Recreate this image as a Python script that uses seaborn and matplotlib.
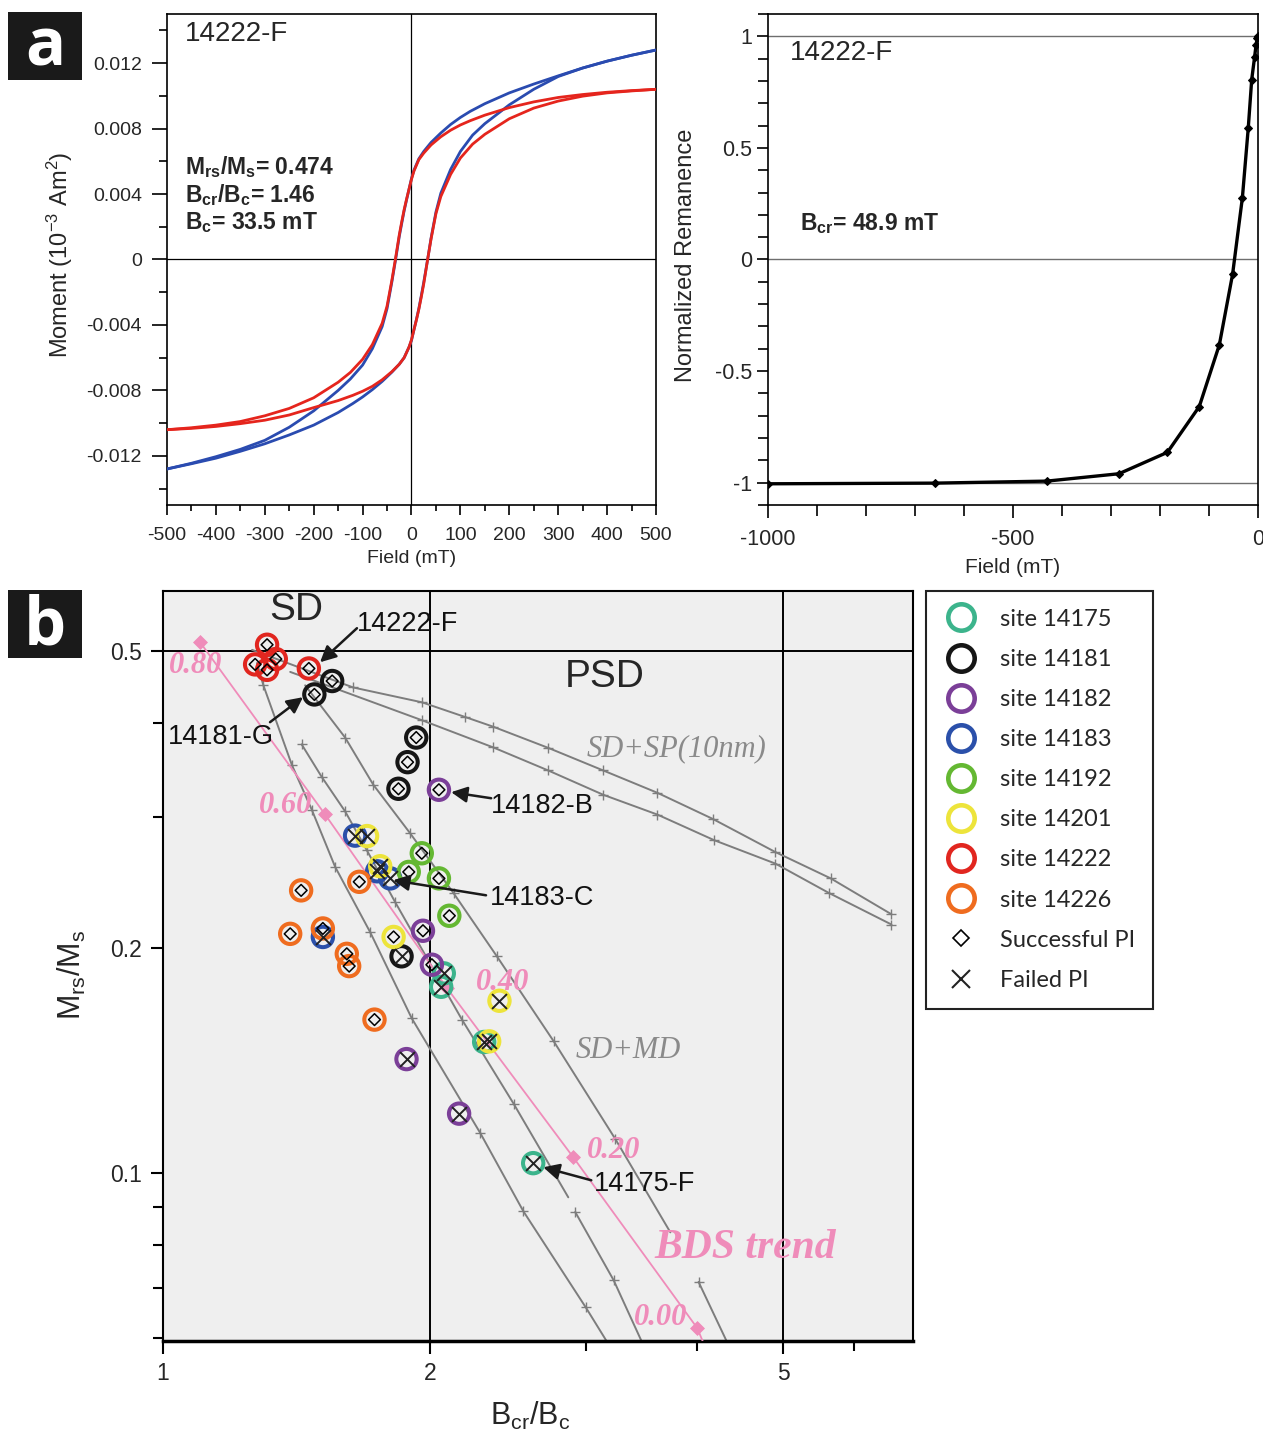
import numpy as np
import pandas as pd
import matplotlib
matplotlib.use("Agg")
import matplotlib.pyplot as plt
from matplotlib.lines import Line2D
from matplotlib.patches import Rectangle
from matplotlib.ticker import FixedLocator, FixedFormatter, NullFormatter, MultipleLocator
import seaborn as sns

sns.set_style("ticks")
plt.rcParams['font.family'] = ['Liberation Sans', 'DejaVu Sans']
plt.rcParams['mathtext.fontset'] = 'custom'
plt.rcParams['mathtext.rm'] = 'Liberation Sans'
plt.rcParams['mathtext.it'] = 'Liberation Sans:italic'
plt.rcParams['mathtext.bf'] = 'Liberation Sans:bold'
plt.rcParams['axes.linewidth'] = 1.2

# ---------------- hysteresis loops (field in mT, moment in 10^-3 Am^2) -------------
field_desc = [500, 450, 400, 350, 300, 250, 200, 150, 120, 100, 80, 60, 40, 25, 15, 5, 0,
              -5, -10, -15, -20, -25, -33, -40, -50, -60, -80, -100, -125, -150, -200,
              -250, -300, -350, -400, -450, -500]
field_asc = [-500, -450, -400, -350, -300, -250, -200, -150, -120, -100, -80, -60, -40, -25,
             -15, -5, 0, 5, 10, 15, 20, 25, 33, 40, 50, 60, 80, 100, 125, 150, 200, 250,
             300, 350, 400, 450, 500]
red_desc = [0.01040, 0.01032, 0.01022, 0.01008, 0.00990, 0.00963, 0.00928, 0.00882, 0.00848,
            0.00822, 0.00790, 0.00750, 0.00700, 0.00650, 0.00610, 0.00540, 0.00490, 0.00430,
            0.00370, 0.00305, 0.00230, 0.00150, 0.00000, -0.00125, -0.00285, -0.00390,
            -0.00520, -0.00610, -0.00690, -0.00750, -0.00845, -0.00910, -0.00955, -0.00990,
            -0.01012, -0.01028, -0.01040]
red_asc = [-0.01040, -0.01032, -0.01020, -0.01003, -0.00982, -0.00950, -0.00905, -0.00862,
           -0.00830, -0.00805, -0.00775, -0.00735, -0.00685, -0.00640, -0.00600, -0.00535,
           -0.00490, -0.00430, -0.00370, -0.00305, -0.00230, -0.00150, 0.00000, 0.00125,
           0.00280, 0.00385, 0.00520, 0.00620, 0.00705, 0.00765, 0.00860, 0.00925, 0.00968,
           0.00998, 0.01018, 0.01030, 0.01040]
blue_desc = [0.01280, 0.01248, 0.01212, 0.01170, 0.01122, 0.01072, 0.01018, 0.00952, 0.00905,
             0.00868, 0.00825, 0.00773, 0.00715, 0.00660, 0.00615, 0.00545, 0.00495, 0.00430,
             0.00365, 0.00298, 0.00220, 0.00140, -0.00010, -0.00135, -0.00300, -0.00410,
             -0.00545, -0.00645, -0.00730, -0.00800, -0.00925, -0.01025, -0.01105, -0.01160,
             -0.01205, -0.01245, -0.01280]
blue_asc = [-0.01280, -0.01248, -0.01214, -0.01172, -0.01126, -0.01072, -0.01012, -0.00935,
            -0.00880, -0.00840, -0.00795, -0.00745, -0.00688, -0.00640, -0.00600, -0.00535,
            -0.00495, -0.00430, -0.00368, -0.00300, -0.00222, -0.00140, 0.00000, 0.00130,
            0.00290, 0.00405, 0.00550, 0.00660, 0.00760, 0.00830, 0.00945, 0.01040, 0.01118,
            0.01170, 0.01212, 0.01248, 0.01280]

# ---------------- back-field remanence curve ----------------
bf_field = [-1000, -659, -431, -284, -185, -120, -79, -52, -32, -20, -13, -7, -4, -1.6, 0]
bf_rem = [-1.005, -1.002, -0.993, -0.960, -0.864, -0.659, -0.382, -0.066, 0.277, 0.590,
          0.806, 0.909, 0.963, 0.992, 1.000]

# ---------------- Day plot samples ----------------
site_names = ['14175', '14181', '14182', '14183', '14192', '14201', '14222', '14226']
site_colors = ['#3cb48c', '#161616', '#7b3f98', '#2b50aa', '#64b832', '#ede43b',
               '#e1261f', '#ef6c1f']
bcr_14175 = [2.072, 2.058, 2.301, 2.613]
mrs_14175 = [0.185, 0.1775, 0.1497, 0.103]
pi_14175 = ['F', 'F', 'F', 'F']
bcr_14181 = [1.551, 1.481, 1.929, 1.886, 1.842, 1.857]
mrs_14181 = [0.456, 0.4375, 0.383, 0.355, 0.327, 0.195]
pi_14181 = ['S', 'S', 'S', 'S', 'S', 'F']
bcr_14182 = [2.046, 1.963, 2.009, 1.881, 2.156]
mrs_14182 = [0.326, 0.211, 0.190, 0.142, 0.120]
pi_14182 = ['S', 'S', 'S', 'F', 'F']
bcr_14183 = [1.646, 1.743, 1.803, 1.514]
mrs_14183 = [0.283, 0.2535, 0.248, 0.207]
pi_14183 = ['F', 'F', 'F', 'F']
bcr_14192 = [1.957, 1.892, 2.046, 2.102]
mrs_14192 = [0.268, 0.253, 0.248, 0.221]
pi_14192 = ['S', 'S', 'S', 'S']
bcr_14201 = [1.698, 1.757, 1.819, 2.394, 2.331]
mrs_14201 = [0.2826, 0.2575, 0.207, 0.170, 0.150]
pi_14201 = ['F', 'F', 'S', 'F', 'F']
bcr_14222 = [1.31, 1.27, 1.34, 1.31, 1.46]
mrs_14222 = [0.51, 0.48, 0.488, 0.472, 0.474]
pi_14222 = ['S', 'S', 'S', 'S', 'S']
bcr_14226 = [1.431, 1.664, 1.391, 1.514, 1.611, 1.621, 1.731]
mrs_14226 = [0.239, 0.2454, 0.209, 0.2125, 0.1965, 0.1892, 0.1604]
pi_14226 = ['S', 'S', 'S', 'S', 'S', 'S', 'S']

# theoretical mixing curves (Bcr/Bc, Mrs/Ms)
sp_upper_bc = [1.260, 1.638, 1.958, 2.191, 2.356, 2.717, 3.134, 3.606, 4.163, 4.898, 5.655, 6.620]
sp_upper_m = [0.502, 0.447, 0.427, 0.408, 0.396, 0.371, 0.346, 0.323, 0.298, 0.269, 0.248, 0.222]
sp_lower_bc = [1.391, 1.958, 2.356, 2.717, 3.134, 3.606, 4.180, 4.898, 5.628, 6.620]
sp_lower_m = [0.469, 0.404, 0.3715, 0.346, 0.321, 0.302, 0.279, 0.2596, 0.2371, 0.2151]
md_a_bc = [1.276, 1.2975, 1.397, 1.472, 1.563, 1.712, 1.907, 2.278, 2.547, 2.995, 3.166]
md_a_m = [0.482, 0.450, 0.352, 0.306, 0.257, 0.210, 0.161, 0.113, 0.0888, 0.066, 0.0593]
md_b1_bc = [1.433, 1.510, 1.604, 1.697, 1.826, 2.172, 2.483, 2.862]
md_b1_m = [0.375, 0.339, 0.305, 0.2705, 0.2306, 0.1604, 0.1238, 0.0927]
md_b2_bc = [2.914, 3.219, 3.465]
md_b2_m = [0.0886, 0.0718, 0.0593]
md_c1_bc = [1.446, 1.604, 1.726, 1.899, 2.125, 2.378, 2.756, 3.233, 3.730]
md_c1_m = [0.450, 0.383, 0.331, 0.285, 0.237, 0.195, 0.150, 0.111, 0.0832]
md_c2_bc = [4.013, 4.321]
md_c2_m = [0.0714, 0.0593]

# BDS trend with SP fraction marks
bds_bc = [1.101, 1.522, 2.090, 2.899, 4.000]
bds_m = [0.514, 0.3023, 0.1767, 0.1049, 0.0619]
bds_labels = ['0.80', '0.60', '0.40', '0.20', '0.00']
bds_label_bc = [1.087, 1.373, 2.411, 3.216, 3.634]
bds_label_m = [0.4788, 0.3108, 0.180, 0.1072, 0.0640]
bds_end = (4.06, 0.0593)

# labelled specimens: name, text position, arrow tail, arrow head
callout_names = ['14222-F', '14181-G', '14182-B', '14183-C', '14175-F']
callout_text = [(1.654, 0.5434), (1.013, 0.3835), (2.343, 0.3098), (2.337, 0.2333), (3.062, 0.0965)]
callout_tail = [(1.654, 0.5367), (1.320, 0.4016), (2.343, 0.3176), (2.312, 0.2354), (3.038, 0.0977)]
callout_head = [(1.503, 0.4832), (1.438, 0.4338), (2.112, 0.3236), (1.817, 0.2466), (2.682, 0.1017)]

# ---------------- figure ----------------
fig = plt.figure(figsize=(12.63, 14.32), dpi=100)
ax_h = fig.add_axes([0.1322, 0.64735, 0.3872, 0.34287])
ax_r = fig.add_axes([0.6081, 0.64735, 0.3880, 0.34287])
ax_d = fig.add_axes([0.12906, 0.06355, 0.59382, 0.52374])

BLUE = '#2a4bb0'
RED = '#e5251d'

# --- hysteresis loops
ax_h.axhline(0, color='black', lw=0.9, zorder=1)
ax_h.axvline(0, color='black', lw=0.9, zorder=1)
for desc, asc, col in [(blue_desc, blue_asc, BLUE), (red_desc, red_asc, RED)]:
    sns.lineplot(x=field_desc, y=desc, sort=False, estimator=None, color=col, lw=2.0,
                 ax=ax_h, zorder=3)
    sns.lineplot(x=field_asc, y=asc, sort=False, estimator=None, color=col, lw=2.0,
                 ax=ax_h, zorder=3)
ax_h.set_xlim(-500, 500)
ax_h.set_ylim(-0.015, 0.015)
h_xt = list(range(-500, 501, 100))
ax_h.xaxis.set_major_locator(FixedLocator(h_xt))
ax_h.xaxis.set_major_formatter(FixedFormatter([str(v) for v in h_xt]))
ax_h.xaxis.set_minor_locator(MultipleLocator(50))
h_yt = [-0.012, -0.008, -0.004, 0, 0.004, 0.008, 0.012]
ax_h.yaxis.set_major_locator(FixedLocator(h_yt))
ax_h.yaxis.set_major_formatter(FixedFormatter(['-0.012', '-0.008', '-0.004', '0',
                                               '0.004', '0.008', '0.012']))
ax_h.yaxis.set_minor_locator(MultipleLocator(0.002))
ax_h.tick_params(axis='both', which='both', direction='out', color='black', width=1.2)
ax_h.tick_params(axis='y', which='major', length=11, labelsize=14, pad=7)
ax_h.tick_params(axis='y', which='minor', length=6)
ax_h.tick_params(axis='x', which='major', length=7, labelsize=14, pad=9)
ax_h.tick_params(axis='x', which='minor', length=4)
for sp in ax_h.spines.values():
    sp.set_color('black')
ax_h.set_xlabel('Field (mT)', fontsize=14)
ax_h.set_ylabel('Moment (10$^{-3}$ Am$^2$)', fontsize=17)
ax_h.xaxis.set_label_coords(0.5, -0.092)
ax_h.yaxis.set_label_coords(-0.188, 0.509)
ax_h.text(-463, 0.01378, '14222-F', fontsize=20, va='center', ha='left')
stats = [r'M$_{\mathbf{rs}}$/M$_{\mathbf{s}}$= 0.474',
         r'B$_{\mathbf{cr}}$/B$_{\mathbf{c}}$= 1.46',
         r'B$_{\mathbf{c}}$= 33.5 mT']
for txt, yv in zip(stats, [0.00564, 0.00392, 0.00227]):
    ax_h.text(-463, yv, txt, fontsize=16.5, fontweight='bold', va='center', ha='left')

# --- back-field curve
for yv in (1, 0, -1):
    ax_r.axhline(yv, color='#6e6e6e', lw=1.0, zorder=1)
sns.lineplot(x=bf_field, y=bf_rem, sort=False, estimator=None, color='black', lw=2.4,
             marker='D', markersize=4.5, markeredgecolor='black', ax=ax_r, zorder=3)
ax_r.set_xlim(-1000, 0)
ax_r.set_ylim(-1.1, 1.1)
ax_r.xaxis.set_major_locator(FixedLocator([-1000, -500, 0]))
ax_r.xaxis.set_major_formatter(FixedFormatter(['-1000', '-500', '0']))
ax_r.xaxis.set_minor_locator(MultipleLocator(100))
ax_r.yaxis.set_major_locator(FixedLocator([-1, -0.5, 0, 0.5, 1]))
ax_r.yaxis.set_major_formatter(FixedFormatter(['-1', '-0.5', '0', '0.5', '1']))
ax_r.yaxis.set_minor_locator(MultipleLocator(0.1))
ax_r.tick_params(axis='both', which='both', direction='out', color='black', width=1.2)
ax_r.tick_params(axis='both', which='major', length=8, labelsize=15.5)
ax_r.tick_params(axis='y', which='minor', length=7)
ax_r.tick_params(axis='x', which='minor', length=8)
ax_r.tick_params(axis='x', which='major', length=9, pad=8)
for sp in ax_r.spines.values():
    sp.set_color('black')
ax_r.set_xlabel('Field (mT)', fontsize=15)
ax_r.set_ylabel('Normalized Remanence', fontsize=17)
ax_r.xaxis.set_label_coords(0.5, -0.107)
ax_r.yaxis.set_label_coords(-0.145, 0.509)
ax_r.text(-955, 0.924, '14222-F', fontsize=20, va='center', ha='left')
ax_r.text(-935, 0.162, r'B$_{\mathbf{cr}}$= 48.9 mT', fontsize=16.5, fontweight='bold',
          va='center', ha='left')

# --- Day plot
ax_d.set_xscale('log')
ax_d.set_yscale('log')
ax_d.set_facecolor('#efefef')
ax_d.axvline(2, color='black', lw=1.4, zorder=1)
ax_d.axvline(5, color='black', lw=1.4, zorder=1)
ax_d.axhline(0.5, color='black', lw=1.4, zorder=1)

GRAY = '#7d7d7d'
curves = [(sp_upper_bc, sp_upper_m, 1, None), (sp_lower_bc, sp_lower_m, 1, None),
          (md_a_bc, md_a_m, 1, -1), (md_b1_bc, md_b1_m, 0, -1), (md_b2_bc, md_b2_m, 0, -1),
          (md_c1_bc, md_c1_m, 1, -1), (md_c2_bc, md_c2_m, 0, -1)]
for bc, m, i0, i1 in curves:
    sns.lineplot(x=bc, y=m, sort=False, estimator=None, color=GRAY, lw=1.4, ax=ax_d, zorder=2)
    sns.scatterplot(x=bc[i0:i1], y=m[i0:i1], marker='+', s=60, color=GRAY, linewidth=1.0,
                    ax=ax_d, zorder=2, legend=False)

PINK = '#ef8cba'
sns.lineplot(x=bds_bc + [bds_end[0]], y=bds_m + [bds_end[1]], sort=False, estimator=None,
             color=PINK, lw=1.3, ax=ax_d, zorder=3)
sns.scatterplot(x=bds_bc, y=bds_m, marker='D', s=50, color=PINK, edgecolor=PINK,
                ax=ax_d, zorder=3, legend=False)
for lab, xb, yb in zip(bds_labels, bds_label_bc, bds_label_m):
    ax_d.text(xb, yb, lab, fontsize=22, color=PINK, family='Liberation Serif',
              style='italic', fontweight='bold', ha='center', va='center', zorder=6)

rows = []
for s, b, m, p in [('14175', bcr_14175, mrs_14175, pi_14175), ('14181', bcr_14181, mrs_14181, pi_14181),
                   ('14182', bcr_14182, mrs_14182, pi_14182), ('14183', bcr_14183, mrs_14183, pi_14183),
                   ('14192', bcr_14192, mrs_14192, pi_14192), ('14201', bcr_14201, mrs_14201, pi_14201),
                   ('14222', bcr_14222, mrs_14222, pi_14222), ('14226', bcr_14226, mrs_14226, pi_14226)]:
    for bi, mi, pi in zip(b, m, p):
        rows.append({'site': s, 'bcr_bc': bi, 'mrs_ms': mi, 'pi': pi})
df = pd.DataFrame(rows)
color_of = dict(zip(site_names, site_colors))

draw_order = ['14175', '14183', '14181', '14182', '14192', '14201', '14222', '14226']
for s in draw_order:
    sub = df[df['site'] == s]
    sns.scatterplot(data=sub, x='bcr_bc', y='mrs_ms', marker='o', s=215, facecolor='none',
                    edgecolor=color_of[s], linewidth=2.9, ax=ax_d, zorder=4, legend=False)
sns.scatterplot(data=df[df['pi'] == 'S'], x='bcr_bc', y='mrs_ms', marker='D', s=36,
                facecolor='none', edgecolor='black', linewidth=1.1, ax=ax_d, zorder=5,
                legend=False)
sns.scatterplot(data=df[df['pi'] == 'F'], x='bcr_bc', y='mrs_ms', marker='x', s=115,
                color='#222222', linewidth=1.4, ax=ax_d, zorder=5, legend=False)

for name, tp, tail, head in zip(callout_names, callout_text, callout_tail, callout_head):
    ax_d.annotate('', xy=head, xytext=tail,
                  arrowprops=dict(arrowstyle='-|>', color='#1a1a1a', lw=1.8,
                                  mutation_scale=24, shrinkA=0, shrinkB=0), zorder=6)
    ax_d.text(tp[0], tp[1], name, fontsize=19.5, ha='left', va='center', color='#111111',
              zorder=6)

ax_d.text(1.413, 0.5674, 'SD', fontsize=28, ha='center', va='center', zorder=6)
ax_d.text(3.142, 0.4613, 'PSD', fontsize=28, ha='center', va='center', zorder=6)
ax_d.text(3.787, 0.3706, 'SD+SP(10nm)', fontsize=22, color='#8a8a8a', family='Liberation Serif',
          style='italic', ha='center', va='center', zorder=6)
ax_d.text(3.344, 0.1459, 'SD+MD', fontsize=22, color='#8a8a8a', family='Liberation Serif',
          style='italic', ha='center', va='center', zorder=6)
ax_d.text(4.530, 0.0792, 'BDS trend', fontsize=30, color=PINK, family='Liberation Serif',
          style='italic', fontweight='bold', ha='center', va='center', zorder=6)

ax_d.set_xlim(1, 7)
ax_d.set_ylim(0.0595, 0.602)
ax_d.xaxis.set_major_locator(FixedLocator([1, 2, 5]))
ax_d.xaxis.set_major_formatter(FixedFormatter(['1', '2', '5']))
ax_d.xaxis.set_minor_locator(FixedLocator([3, 4, 6]))
ax_d.xaxis.set_minor_formatter(NullFormatter())
ax_d.yaxis.set_major_locator(FixedLocator([0.1, 0.2, 0.5]))
ax_d.yaxis.set_major_formatter(FixedFormatter(['0.1', '0.2', '0.5']))
ax_d.yaxis.set_minor_locator(FixedLocator([0.06, 0.07, 0.08, 0.09, 0.3, 0.4]))
ax_d.yaxis.set_minor_formatter(NullFormatter())
ax_d.tick_params(axis='both', which='both', direction='out', color='black', width=1.5,
                 labelsize=16.5)
ax_d.tick_params(axis='both', which='major', length=9, pad=6)
ax_d.tick_params(axis='both', which='minor', length=7)
for sp in ax_d.spines.values():
    sp.set_color('black')
    sp.set_linewidth(1.5)
ax_d.spines['bottom'].set_linewidth(2.5)
ax_d.set_xlabel(r'B$_{\mathrm{cr}}$/B$_{\mathrm{c}}$', fontsize=22)
ax_d.set_ylabel(r'M$_{\mathrm{rs}}$/M$_{\mathrm{s}}$', fontsize=22)
ax_d.xaxis.set_label_coords(0.489, -0.078)
ax_d.yaxis.set_label_coords(-0.100, 0.488)

handles = [Line2D([], [], ls='none', marker='o', markersize=19, markerfacecolor='none',
                  markeredgecolor=c, markeredgewidth=3.3) for c in site_colors]
handles.append(Line2D([], [], ls='none', marker='D', markersize=8, markerfacecolor='none',
                      markeredgecolor='black', markeredgewidth=1.2))
handles.append(Line2D([], [], ls='none', marker='x', markersize=13, color='#222222',
                      markeredgewidth=1.5))
labels = ['site ' + s for s in site_names] + ['Successful PI', 'Failed PI']
leg = ax_d.legend(handles=handles, labels=labels, loc='upper left',
                  bbox_to_anchor=(0.73318, 0.58729), bbox_transform=fig.transFigure,
                  frameon=True, fancybox=False, edgecolor='#222222', framealpha=1,
                  facecolor='white', borderpad=0.75, handlelength=1.45, handletextpad=0.93,
                  labelspacing=0.81, borderaxespad=0, prop={'family': 'Lato', 'size': 17})
leg.get_frame().set_linewidth(1.5)

# panel letters
for y0, yb, letter in [(0.94413, 0.9546, 'a'), (0.5405, 0.5496, 'b')]:
    fig.patches.append(Rectangle((0.00633, y0), 0.0586, 0.0475, transform=fig.transFigure,
                                 facecolor='#1a1a1a', edgecolor='none'))
    fig.text(0.0356, yb, letter, color='white', fontsize=48, fontweight='bold',
             family='Open Sans', ha='center', va='baseline')

fig.savefig('out.png', dpi=100)
